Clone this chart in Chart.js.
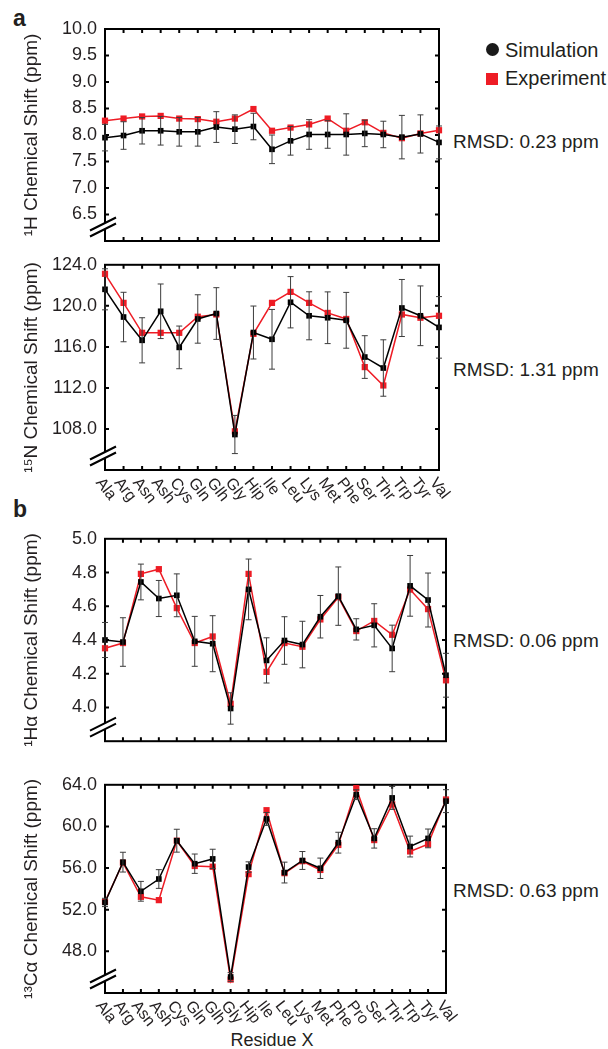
<!DOCTYPE html>
<html>
<head>
<meta charset="utf-8">
<script src="https://cdn.jsdelivr.net/npm/chart.js@4.4.0/dist/chart.umd.min.js"></script>
<style>
  body { margin: 0; background: #fff; width: 608px; height: 1049px; position: relative; overflow: hidden;
         font-family: 'Liberation Sans', Arial, sans-serif; color: #231f20; }
  canvas { position: absolute; left: 0; }
  .t { position: absolute; white-space: nowrap; line-height: 1; }
</style>
</head>
<body>
<div class="t" style="left:13px;top:7px;font-weight:bold;font-size:23px">a</div>
<div class="t" style="left:13px;top:498px;font-weight:bold;font-size:23px">b</div>

<div style="position:absolute;left:486px;top:43px;width:13px;height:13px;border-radius:50%;background:#1a1a1a"></div>
<div class="t" style="left:505px;top:40px;font-size:20px">Simulation</div>
<div style="position:absolute;left:486px;top:73px;width:12px;height:12px;background:#ee1c25"></div>
<div class="t" style="left:505px;top:68px;font-size:20px">Experiment</div>

<div class="t" style="left:453px;top:132px;font-size:19px">RMSD: 0.23 ppm</div>
<div class="t" style="left:453px;top:360px;font-size:19px">RMSD: 1.31 ppm</div>
<div class="t" style="left:453px;top:631px;font-size:19px">RMSD: 0.06 ppm</div>
<div class="t" style="left:453px;top:881px;font-size:19px">RMSD: 0.63 ppm</div>

<div class="t" style="left:172px;width:200px;text-align:center;top:1031px;font-size:18px">Residue X</div>

<canvas id="c1" width="608" height="262" style="top:0px"></canvas>
<canvas id="c2" width="608" height="270" style="top:246px"></canvas>
<canvas id="c3" width="608" height="240" style="top:520px"></canvas>
<canvas id="c4" width="608" height="283" style="top:766px"></canvas>

<script>
// residue names (AMBER style)
const residuesA = ['Ala','Arg','Asn','Ash','Cys','Gln','Glh','Gly','Hip','Ile','Leu','Lys','Met','Phe','Ser','Thr','Trp','Tyr','Val'];
const residuesB = ['Ala','Arg','Asn','Ash','Cys','Gln','Glh','Gly','Hip','Ile','Leu','Lys','Met','Phe','Pro','Ser','Thr','Trp','Tyr','Val'];

// panel a, 1H
const hSim = [7.95, 7.99, 8.08, 8.08, 8.06, 8.06, 8.15, 8.11, 8.16, 7.73, 7.89, 8.01, 8.01, 8.01, 8.03, 8.01, 7.96, 8.02, 7.86];
const hErr = [0.25, 0.26, 0.25, 0.27, 0.27, 0.27, 0.29, 0.27, 0.25, 0.27, 0.27, 0.28, 0.26, 0.39, 0.25, 0.25, 0.41, 0.36, 0.31];
const hExp = [8.27, 8.31, 8.35, 8.36, 8.31, 8.30, 8.25, 8.31, 8.49, 8.08, 8.14, 8.20, 8.31, 8.08, 8.24, 8.04, 7.94, 8.03, 8.09];
const hTicks = [10.0, 9.5, 9.0, 8.5, 8.0, 7.5, 7.0, 6.5];

// panel a, 15N
const nSim = [121.61, 118.91, 116.64, 119.47, 115.95, 118.72, 119.25, 107.46, 117.40, 116.74, 120.35, 119.03, 118.84, 118.59, 115.01, 113.94, 119.79, 119.03, 117.90];
const nErr = [2.0, 2.41, 2.2, 2.66, 2.08, 2.36, 2.52, 1.86, 2.58, 2.91, 2.5, 2.34, 2.52, 2.72, 2.08, 2.75, 2.78, 2.91, 3.0];
const nExp = [123.12, 120.29, 117.37, 117.37, 117.37, 118.94, 119.16, 107.77, 117.27, 120.29, 121.36, 120.29, 119.31, 118.72, 114.03, 112.24, 119.16, 118.84, 119.03];
const nTicks = [124, 120, 116, 112, 108];

// panel b, 1H alpha
const haSim = [4.40, 4.388, 4.744, 4.646, 4.665, 4.392, 4.378, 3.994, 4.70, 4.279, 4.397, 4.373, 4.538, 4.66, 4.463, 4.487, 4.35, 4.721, 4.637, 4.191];
const haErr = [0.104, 0.144, 0.106, 0.107, 0.127, 0.148, 0.166, 0.093, 0.18, 0.134, 0.141, 0.138, 0.126, 0.173, 0.063, 0.128, 0.138, 0.18, 0.16, 0.13];
const haExp = [4.351, 4.382, 4.792, 4.820, 4.589, 4.382, 4.421, 4.022, 4.792, 4.211, 4.382, 4.36, 4.522, 4.654, 4.453, 4.513, 4.431, 4.699, 4.583, 4.161];
const haTicks = [5.0, 4.8, 4.6, 4.4, 4.2, 4.0];

// panel b, 13C alpha
const caSim = [52.7, 56.57, 53.77, 54.95, 58.63, 56.42, 56.88, 45.54, 56.1, 60.72, 55.57, 56.73, 55.98, 58.44, 63.05, 58.85, 62.74, 58.07, 58.85, 62.43];
const caErr = [0.4, 0.95, 0.95, 0.9, 1.1, 0.93, 0.93, 0.42, 0.5, 0.62, 1.0, 0.86, 0.98, 1.0, 0.47, 0.93, 1.1, 1.0, 0.9, 1.1];
const caExp = [52.77, 56.51, 53.24, 52.92, 58.63, 56.2, 56.13, 45.29, 55.42, 61.56, 55.51, 56.66, 55.82, 58.22, 63.68, 58.69, 62.12, 57.6, 58.29, 62.59];
const caTicks = [64, 60, 56, 52, 48];

const INK = '#231f20';
const RED = '#ee1c25';

const errorBars = {
  id: 'errorBars',
  afterDatasetsDraw(chart) {
    const ds = chart.data.datasets[0];
    if (!ds.errors) return;
    const { ctx, scales: { x, y } } = chart;
    ctx.save();
    ctx.strokeStyle = '#3c3c3c';
    ctx.lineWidth = 1;
    ds.errors.forEach((e, i) => {
      const px = x.getPixelForValue(i);
      const hi = y.getPixelForValue(ds.data[i] + e);
      const lo = y.getPixelForValue(ds.data[i] - e);
      ctx.beginPath();
      ctx.moveTo(px, hi); ctx.lineTo(px, lo);
      ctx.moveTo(px - 3, hi); ctx.lineTo(px + 3, hi);
      ctx.moveTo(px - 3, lo); ctx.lineTo(px + 3, lo);
      ctx.stroke();
    });
    ctx.restore();
  }
};

// box, inward ticks on all sides, axis break and slanted residue labels
function frame(labels) {
  return {
    id: 'frame',
    beforeDatasetsDraw(chart) {
      const { ctx, chartArea: a, scales: { x, y } } = chart;
      ctx.save();
      ctx.strokeStyle = '#000';
      ctx.lineWidth = 2;
      ctx.beginPath();
      for (let i = 1; i < x.getLabels().length - 1; i++) {
        const px = x.getPixelForValue(i);
        ctx.moveTo(px, a.top); ctx.lineTo(px, a.top + 4);
        ctx.moveTo(px, a.bottom); ctx.lineTo(px, a.bottom - 4);
      }
      y.ticks.forEach(t => {
        if (t.value <= y.min || t.value >= y.max) return;
        const py = y.getPixelForValue(t.value);
        ctx.moveTo(a.left, py); ctx.lineTo(a.left + 4, py);
        ctx.moveTo(a.right, py); ctx.lineTo(a.right - 4, py);
      });
      ctx.stroke();
      ctx.strokeRect(a.left, a.top, a.right - a.left, a.bottom - a.top);

      // axis break
      const cx = a.left - 2, cy = a.bottom - 14;
      ctx.fillStyle = '#fff';
      ctx.beginPath();
      ctx.moveTo(cx - 13, cy + 3.5); ctx.lineTo(cx + 13, cy - 9);
      ctx.lineTo(cx + 13, cy - 3.5); ctx.lineTo(cx - 13, cy + 9);
      ctx.closePath(); ctx.fill();
      ctx.beginPath();
      [-3, 3].forEach(d => {
        ctx.moveTo(cx - 13, cy + 6.5 + d); ctx.lineTo(cx + 13, cy - 6.5 + d);
      });
      ctx.stroke();

      if (labels) {
        ctx.font = "16px 'Liberation Sans', Arial, sans-serif";
        ctx.fillStyle = INK;
        ctx.textAlign = 'left';
        ctx.textBaseline = 'top';
        labels.forEach((t, i) => {
          ctx.save();
          ctx.translate(x.getPixelForValue(i), a.bottom + 5);
          ctx.rotate(52 * Math.PI / 180);
          ctx.fillText(t, 0, 0);
          ctx.restore();
        });
      }
      ctx.restore();
    }
  };
}

function makeChart(id, cfg) {
  const datasets = [
    { label: 'Simulation', data: cfg.sim, errors: cfg.err, borderColor: '#000', backgroundColor: '#000',
      borderWidth: 1.5, pointStyle: 'rect', pointRadius: 4, pointBorderWidth: 0, tension: 0, clip: false, order: 0 },
    { label: 'Experiment', data: cfg.exp, borderColor: RED, backgroundColor: RED,
      borderWidth: 1.5, pointStyle: 'rect', pointRadius: 4.4, pointBorderWidth: 0, tension: 0, clip: false, order: 1 }
  ];
  return new Chart(document.getElementById(id), {
    type: 'line',
    data: { labels: cfg.labels, datasets },
    plugins: [frame(cfg.showLabels ? cfg.labels : null), errorBars],
    options: {
      responsive: false,
      animation: false,
      devicePixelRatio: 1,
      layout: { padding: cfg.pad },
      plugins: { legend: { display: false }, tooltip: { enabled: false } },
      scales: {
        x: { type: 'category', display: false, offset: false },
        y: {
          min: cfg.min, max: cfg.max,
          afterFit(s) { s.width = 105; },
          afterBuildTicks(s) { s.ticks = cfg.ticks.map(v => ({ value: v })); },
          grid: { display: false, drawTicks: false },
          border: { display: false },
          ticks: { padding: 8, color: INK, font: { family: "'Liberation Sans', Arial, sans-serif", size: 18 },
                   callback: v => v.toFixed(1) },
          title: { display: true, text: cfg.title, color: INK, padding: { top: 20, bottom: 0 },
                   font: { family: "'Liberation Sans', 'DejaVu Sans', Arial, sans-serif", size: 19 } }
        }
      }
    }
  });
}

makeChart('c1', { labels: residuesA, sim: hSim, err: hErr, exp: hExp, ticks: hTicks, min: 6.0, max: 10.0,
  title: '\u00B9H Chemical Shift (ppm)', pad: { left: 0, right: 169, top: 29, bottom: 21 } });
makeChart('c2', { labels: residuesA, sim: nSim, err: nErr, exp: nExp, ticks: nTicks, min: 104, max: 124, showLabels: true,
  title: '\u00B9\u2075N Chemical Shift (ppm)', pad: { left: 0, right: 169, top: 12, bottom: 46 } });
makeChart('c3', { labels: residuesB, sim: haSim, err: haErr, exp: haExp, ticks: haTicks, min: 3.8, max: 5.0,
  title: '\u00B9H\u03B1 Chemical Shift (ppm)', pad: { left: 0, right: 162, top: 12, bottom: 13 } });
makeChart('c4', { labels: residuesB, sim: caSim, err: caErr, exp: caExp, ticks: caTicks, min: 44, max: 64, showLabels: true,
  title: '\u00B9\u00B3C\u03B1 Chemical Shift (ppm)', pad: { left: 0, right: 162, top: 14, bottom: 56 } });
</script>
</body>
</html>
